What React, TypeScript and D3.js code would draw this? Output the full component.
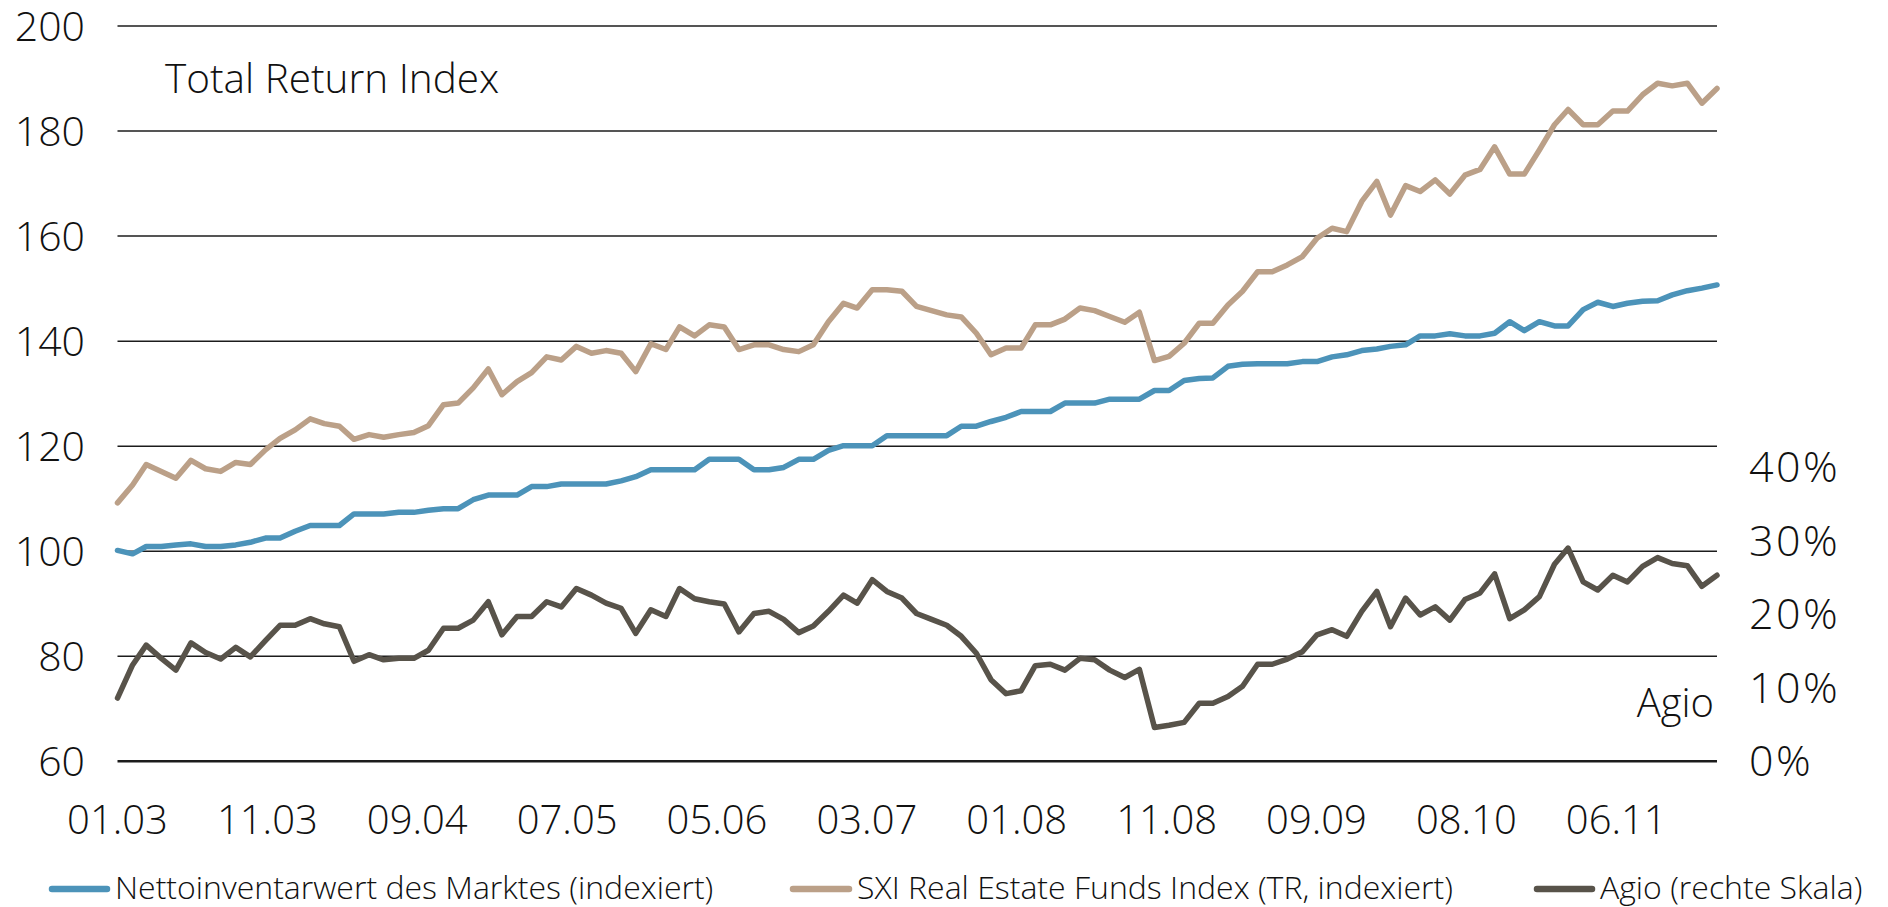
import React from "react";
import * as d3 from "d3";

// Monthly observations, first of month, Jan 2003 .. Jan 2012
const START = new Date(Date.UTC(2003, 0, 1));
const END = new Date(Date.UTC(2012, 0, 1));
const MONTHS = d3.utcMonth.range(START, d3.utcDay.offset(END, 1));

// Nettoinventarwert des Marktes (indexiert)
const NAV = [
  100.15, 99.5, 100.9, 100.9, 101.2, 101.4, 100.9, 100.9, 101.2, 101.7,
  102.5, 102.5, 103.8, 104.9, 104.9, 104.9, 107.1, 107.1, 107.1, 107.4,
  107.4, 107.8, 108.1, 108.1, 109.8, 110.7, 110.7, 110.7, 112.3, 112.3,
  112.8, 112.8, 112.8, 112.8, 113.4, 114.2, 115.5, 115.5, 115.5, 115.5,
  117.5, 117.5, 117.5, 115.5, 115.5, 115.95, 117.5, 117.5, 119.2, 120.1,
  120.1, 120.1, 122.0, 122.0, 122.0, 122.0, 122.0, 123.8, 123.8, 124.7,
  125.5, 126.6, 126.6, 126.6, 128.2, 128.2, 128.2, 128.95, 128.95, 128.95,
  130.6, 130.6, 132.5, 132.9, 133.0, 135.2, 135.6, 135.7, 135.7, 135.7,
  136.1, 136.1, 137.0, 137.4, 138.2, 138.5, 139.0, 139.3, 141.0, 141.0,
  141.4, 141.0, 141.0, 141.5, 143.7, 142.0, 143.7, 142.9, 142.9, 146.0,
  147.4, 146.6, 147.2, 147.6, 147.7, 148.8, 149.6, 150.1, 150.7,
];

// SXI Real Estate Funds Index (TR, indexiert)
const SXI = [
  109.2, 112.6, 116.5, 115.2, 113.9, 117.3, 115.7, 115.2, 116.9, 116.5,
  119.3, 121.5, 123.1, 125.2, 124.3, 123.8, 121.3, 122.2, 121.7, 122.2,
  122.6, 123.9, 127.9, 128.2, 131.1, 134.7, 129.8, 132.3, 134.0, 137.0,
  136.4, 139.0, 137.7, 138.2, 137.7, 134.2, 139.5, 138.4, 142.7, 141.0,
  143.1, 142.7, 138.4, 139.3, 139.3, 138.4, 138.0, 139.3, 143.7, 147.2,
  146.3, 149.8, 149.8, 149.5, 146.6, 145.8, 145.0, 144.6, 141.5, 137.4,
  138.7, 138.7, 143.1, 143.1, 144.2, 146.3, 145.8, 144.7, 143.6, 145.5,
  136.3, 137.1, 139.6, 143.4, 143.4, 146.9, 149.5, 153.2, 153.2, 154.5,
  156.1, 159.6, 161.5, 160.85, 166.6, 170.4, 164.0, 169.6, 168.5, 170.7,
  168.0, 171.6, 172.7, 177.0, 171.8, 171.8, 176.4, 181.2, 184.1, 181.2,
  181.2, 183.8, 183.8, 186.9, 189.1, 188.6, 189.1, 185.3, 188.1,
];

// Agio in percent (right-hand scale)
const AGIO = [
  8.6, 13.1, 15.8, 14.0, 12.4, 16.1, 14.8, 13.9, 15.5, 14.2,
  16.4, 18.5, 18.5, 19.4, 18.7, 18.3, 13.6, 14.5, 13.8, 14.0,
  14.0, 15.1, 18.1, 18.1, 19.2, 21.7, 17.2, 19.7, 19.7, 21.7,
  21.0, 23.5, 22.6, 21.5, 20.8, 17.4, 20.6, 19.7, 23.5, 22.1,
  21.7, 21.4, 17.6, 20.1, 20.4, 19.3, 17.5, 18.4, 20.4, 22.6,
  21.5, 24.7, 23.1, 22.2, 20.1, 19.3, 18.5, 17.0, 14.7, 11.1,
  9.2, 9.6, 13.0, 13.2, 12.4, 14.0, 13.8, 12.4, 11.4, 12.5,
  4.6, 4.9, 5.3, 7.9, 7.9, 8.8, 10.2, 13.2, 13.2, 13.9,
  14.9, 17.2, 17.9, 17.0, 20.4, 23.1, 18.3, 22.2, 19.9, 21.0,
  19.2, 22.0, 22.9, 25.5, 19.4, 20.6, 22.4, 26.8, 29.0, 24.4,
  23.3, 25.3, 24.4, 26.5, 27.7, 26.9, 26.6, 23.8, 25.3,
];

const TICK_LABELS = ["01.03", "11.03", "09.04", "07.05", "05.06", "03.07", "01.08", "11.08", "09.09", "08.10", "06.11"];
const TICK_STEP_DAYS = 308;
const LEFT_TICKS = [60, 80, 100, 120, 140, 160, 180, 200];
const RIGHT_TICKS = [0, 10, 20, 30, 40];

const SERIES_NAMES = [
  "Nettoinventarwert des Marktes (indexiert)",
  "SXI Real Estate Funds Index (TR, indexiert)",
  "Agio (rechte Skala)",
];

const COLORS = { nav: "#4c93b9", sxi: "#bba088", agio: "#58534a", text: "#111111", grid: "#1c1c1c" };
const FONT = "'Open Sans', 'Noto Sans', sans-serif";

const W = 1888;
const H = 907;
const PLOT = { left: 117.5, right: 1717, top: 26, bottom: 761.3 };

export default function App() {
  const x = d3.scaleUtc().domain([START, END]).range([PLOT.left, PLOT.right]);
  const yL = d3.scaleLinear().domain([60, 200]).range([PLOT.bottom, PLOT.top]);
  const yR = d3.scaleLinear().domain([0, 100]).range([PLOT.bottom, PLOT.top]);

  const lineL = d3
    .line<number>()
    .x((_, i) => x(MONTHS[i]))
    .y((d) => yL(d));
  const lineR = d3
    .line<number>()
    .x((_, i) => x(MONTHS[i]))
    .y((d) => yR(d));

  const ticks = TICK_LABELS.map((label, k) => ({
    label,
    date: d3.utcDay.offset(START, k * TICK_STEP_DAYS),
  }));

  const legend = [
    { label: SERIES_NAMES[0], color: COLORS.nav, x0: 52, x1: 107, tx: 115 },
    { label: SERIES_NAMES[1], color: COLORS.sxi, x0: 793, x1: 849, tx: 857 },
    { label: SERIES_NAMES[2], color: COLORS.agio, x0: 1537, x1: 1592, tx: 1600 },
  ];

  return (
    <svg
      width={W}
      height={H}
      viewBox={`0 0 ${W} ${H}`}
      style={{ position: "absolute", left: 0, top: 0, display: "block", background: "#fff" }}
      fontFamily={FONT}
      fontWeight={300}
    >
      {/* horizontal grid */}
      {LEFT_TICKS.map((t) => (
        <line
          key={t}
          x1={PLOT.left}
          x2={PLOT.right}
          y1={yL(t)}
          y2={yL(t)}
          stroke={COLORS.grid}
          strokeWidth={t === 60 ? 2.4 : 1.5}
        />
      ))}

      {/* left axis labels */}
      {LEFT_TICKS.map((t) => (
        <text key={t} x={85} y={yL(t)} dy="0.36em" textAnchor="end" fontSize={41} fill={COLORS.text}>
          {t}
        </text>
      ))}

      {/* right axis labels */}
      {RIGHT_TICKS.map((t) => (
        <text
          key={t}
          x={1749}
          y={yR(t)}
          dy="0.35em"
          textAnchor="start"
          fontSize={43}
          letterSpacing={2.5}
          fill={COLORS.text}
        >
          {`${t}%`}
        </text>
      ))}

      {/* x axis labels */}
      {ticks.map((t) => (
        <text key={t.label} x={x(t.date)} y={834} textAnchor="middle" fontSize={40} fill={COLORS.text}>
          {t.label}
        </text>
      ))}

      {/* series */}
      <path d={lineL(SXI) ?? ""} fill="none" stroke={COLORS.sxi} strokeWidth={5.5} strokeLinejoin="round" strokeLinecap="round" />
      <path d={lineL(NAV) ?? ""} fill="none" stroke={COLORS.nav} strokeWidth={5.5} strokeLinejoin="round" strokeLinecap="round" />
      <path d={lineR(AGIO) ?? ""} fill="none" stroke={COLORS.agio} strokeWidth={5.5} strokeLinejoin="round" strokeLinecap="round" />

      {/* annotations */}
      <text x={165} y={93} fontSize={40.5} fill={COLORS.text}>
        Total Return Index
      </text>
      <text x={1714} y={717} textAnchor="end" fontSize={40} fill={COLORS.text}>
        Agio
      </text>

      {/* legend */}
      {legend.map((l) => (
        <g key={l.label}>
          <line x1={l.x0} x2={l.x1} y1={889} y2={889} stroke={l.color} strokeWidth={6.5} strokeLinecap="round" />
          <text x={l.tx} y={898.5} fontSize={32} fill={COLORS.text}>
            {l.label}
          </text>
        </g>
      ))}
    </svg>
  );
}
